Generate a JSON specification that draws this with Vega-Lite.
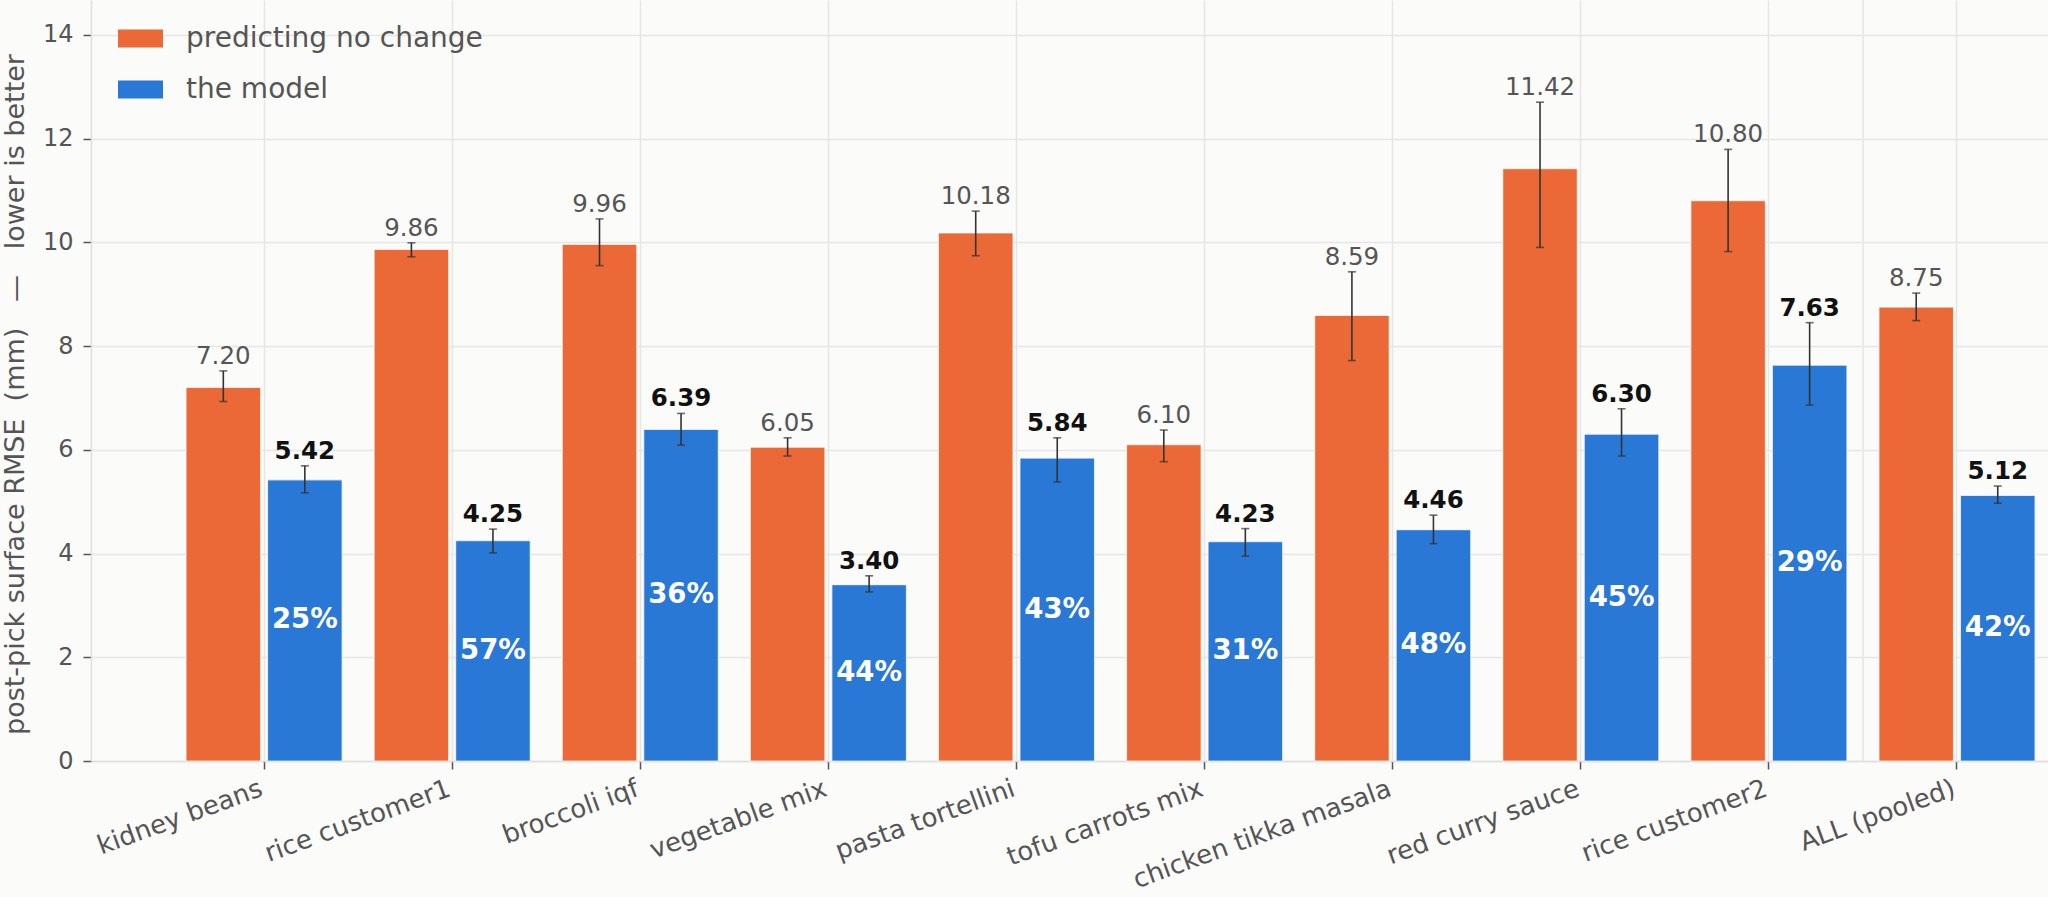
{
  "$schema": "https://vega.github.io/schema/vega-lite/v6.json",
  "width": 1957,
  "height": 761,
  "autosize": {"type": "none"},
  "padding": {"left": 91, "top": 0, "right": 0, "bottom": 136},
  "background": "#fbfbf9",
  "config": {
    "view": {"stroke": null},
    "font": "DejaVu Sans"
  },
  "data": {
    "values": [
      {"cat": "kidney beans", "series": "predicting no change", "v": 7.20, "lo": 6.93, "hi": 7.52, "label": "7.20"},
      {"cat": "kidney beans", "series": "the model", "v": 5.42, "lo": 5.17, "hi": 5.69, "label": "5.42", "pct": "25%"},
      {"cat": "rice customer1", "series": "predicting no change", "v": 9.86, "lo": 9.72, "hi": 9.99, "label": "9.86"},
      {"cat": "rice customer1", "series": "the model", "v": 4.25, "lo": 4.01, "hi": 4.47, "label": "4.25", "pct": "57%"},
      {"cat": "broccoli iqf", "series": "predicting no change", "v": 9.96, "lo": 9.55, "hi": 10.45, "label": "9.96"},
      {"cat": "broccoli iqf", "series": "the model", "v": 6.39, "lo": 6.09, "hi": 6.70, "label": "6.39", "pct": "36%"},
      {"cat": "vegetable mix", "series": "predicting no change", "v": 6.05, "lo": 5.88, "hi": 6.23, "label": "6.05"},
      {"cat": "vegetable mix", "series": "the model", "v": 3.40, "lo": 3.26, "hi": 3.57, "label": "3.40", "pct": "44%"},
      {"cat": "pasta tortellini", "series": "predicting no change", "v": 10.18, "lo": 9.74, "hi": 10.60, "label": "10.18"},
      {"cat": "pasta tortellini", "series": "the model", "v": 5.84, "lo": 5.38, "hi": 6.23, "label": "5.84", "pct": "43%"},
      {"cat": "tofu carrots mix", "series": "predicting no change", "v": 6.10, "lo": 5.77, "hi": 6.38, "label": "6.10"},
      {"cat": "tofu carrots mix", "series": "the model", "v": 4.23, "lo": 3.95, "hi": 4.48, "label": "4.23", "pct": "31%"},
      {"cat": "chicken tikka masala", "series": "predicting no change", "v": 8.59, "lo": 7.72, "hi": 9.43, "label": "8.59"},
      {"cat": "chicken tikka masala", "series": "the model", "v": 4.46, "lo": 4.19, "hi": 4.74, "label": "4.46", "pct": "48%"},
      {"cat": "red curry sauce", "series": "predicting no change", "v": 11.42, "lo": 9.90, "hi": 12.70, "label": "11.42"},
      {"cat": "red curry sauce", "series": "the model", "v": 6.30, "lo": 5.88, "hi": 6.79, "label": "6.30", "pct": "45%"},
      {"cat": "rice customer2", "series": "predicting no change", "v": 10.80, "lo": 9.82, "hi": 11.79, "label": "10.80"},
      {"cat": "rice customer2", "series": "the model", "v": 7.63, "lo": 6.86, "hi": 8.45, "label": "7.63", "pct": "29%"},
      {"cat": "ALL (pooled)", "series": "predicting no change", "v": 8.75, "lo": 8.49, "hi": 9.02, "label": "8.75"},
      {"cat": "ALL (pooled)", "series": "the model", "v": 5.12, "lo": 4.97, "hi": 5.30, "label": "5.12", "pct": "42%"}
    ]
  },
  "encoding": {
    "x": {
      "field": "cat",
      "type": "nominal",
      "sort": ["kidney beans", "rice customer1", "broccoli iqf", "vegetable mix", "pasta tortellini", "tofu carrots mix", "chicken tikka masala", "red curry sauce", "rice customer2", "ALL (pooled)"],
      "scale": {"paddingInner": 0.17, "paddingOuter": 0.287, "align": 0.88},
      "axis": {
        "title": null,
        "grid": true,
        "gridColor": "#e6e6e6",
        "gridWidth": 1.5,
        "labelAngle": -20,
        "labelAlign": "right",
        "labelBaseline": "top",
        "labelFontSize": 26,
        "labelLimit": 0,
        "labelColor": "#555555",
        "labelPadding": 6,
        "labelOffset": -7,
        "tickColor": "#555555",
        "tickSize": 8,
        "tickWidth": 1.5,
        "domainColor": "#dddddd",
        "domainWidth": 1.5
      }
    }
  },
  "layer": [
    {
      "layer": [
        {
          "data": {"values": [{}]},
          "mark": {"type": "rule", "color": "#e6e6e6", "strokeWidth": 1.5},
          "encoding": {
            "x": {"datum": "ALL (pooled)", "bandPosition": -0.102}
          }
        },
        {
          "mark": {"type": "bar", "stroke": "white", "strokeWidth": 1.2, "strokeOpacity": 0.7},
          "encoding": {
            "xOffset": {"field": "series", "type": "nominal", "scale": {"domain": ["predicting no change", "the model"], "paddingInner": 0.085, "paddingOuter": 0}},
            "y": {
              "field": "v",
              "type": "quantitative",
              "scale": {"domain": [0, 14.67], "nice": false},
              "axis": {
                "values": [0, 2, 4, 6, 8, 10, 12, 14],
                "title": "post-pick surface RMSE\u00a0 (mm) \u00a0 \u2014 \u00a0 lower is better",
                "titleFontSize": 27,
                "titleFontWeight": "normal",
                "titleColor": "#555555",
                "titleX": -62,
                "titleY": 394,
                "titleBaseline": "bottom",
                "labelFontSize": 24,
                "labelColor": "#555555",
                "labelPadding": 10,
                "tickColor": "#555555",
                "tickSize": 8,
                "tickWidth": 1.5,
                "domainColor": "#dddddd",
                "domainWidth": 1.5,
                "gridColor": "#e6e6e6",
                "gridWidth": 1.5
              }
            },
            "color": {
              "field": "series",
              "type": "nominal",
              "scale": {"domain": ["predicting no change", "the model"], "range": ["#ea6936", "#2a78d5"]},
              "legend": {
                "orient": "none",
                "legendX": 27,
                "legendY": 16,
                "title": null,
                "symbolType": "M-1,-0.4L1,-0.4L1,0.4L-1,0.4Z",
                "symbolSize": 2025,
                "symbolOpacity": 1,
                "symbolStrokeWidth": 0,
                "labelFontSize": 28,
                "labelLimit": 0,
                "labelColor": "#555555",
                "labelOffset": 23,
                "rowPadding": 14,
                "padding": 0
              }
            }
          }
        },
        {
          "mark": {"type": "rule", "color": "#333333", "strokeWidth": 1.6},
          "encoding": {
            "xOffset": {"field": "series", "type": "nominal"},
            "y": {"field": "lo", "type": "quantitative"},
            "y2": {"field": "hi"}
          }
        },
        {
          "mark": {"type": "tick", "orient": "horizontal", "size": 8, "thickness": 1.6, "color": "#333333"},
          "encoding": {
            "xOffset": {"field": "series", "type": "nominal"},
            "y": {"field": "lo", "type": "quantitative"}
          }
        },
        {
          "mark": {"type": "tick", "orient": "horizontal", "size": 8, "thickness": 1.6, "color": "#333333"},
          "encoding": {
            "xOffset": {"field": "series", "type": "nominal"},
            "y": {"field": "hi", "type": "quantitative"}
          }
        },
        {
          "transform": [{"filter": "datum.series == 'predicting no change'"}],
          "mark": {"type": "text", "baseline": "alphabetic", "dy": -7, "fontSize": 24.5, "color": "#555555"},
          "encoding": {
            "xOffset": {"field": "series", "type": "nominal"},
            "y": {"field": "hi", "type": "quantitative"},
            "text": {"field": "label"}
          }
        },
        {
          "transform": [{"filter": "datum.series == 'the model'"}],
          "mark": {"type": "text", "baseline": "alphabetic", "dy": -7, "fontSize": 24.5, "fontWeight": "bold", "color": "#111111"},
          "encoding": {
            "xOffset": {"field": "series", "type": "nominal"},
            "y": {"field": "hi", "type": "quantitative"},
            "text": {"field": "label"}
          }
        }
      ]
    },
    {
      "transform": [{"filter": "datum.series == 'the model'"}],
      "mark": {"type": "text", "baseline": "middle", "fontSize": 27.5, "fontWeight": "bold", "color": "white"},
      "encoding": {
        "xOffset": {"field": "series", "type": "nominal"},
        "y": {"field": "v", "type": "quantitative", "scale": {"domain": [0, 29.34], "nice": false}, "axis": null},
        "text": {"field": "pct"}
      }
    }
  ],
  "resolve": {"scale": {"y": "independent"}}
}
